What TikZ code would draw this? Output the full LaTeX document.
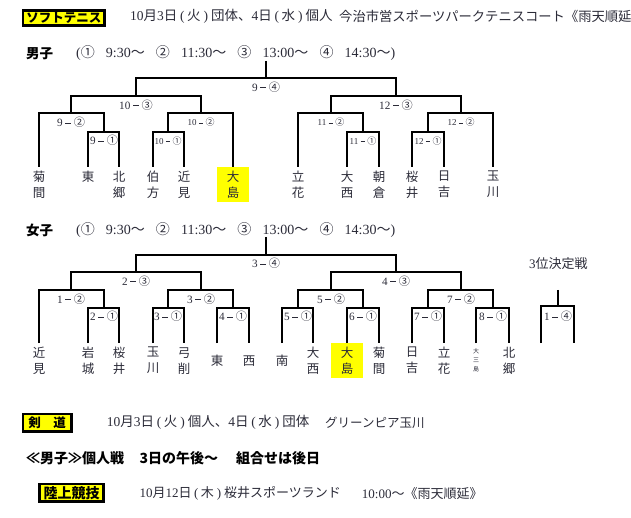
\documentclass[tikz,border=0pt]{standalone}
\usepackage{fontspec}
\setmainfont{Noto Sans CJK JP}
\newfontfamily\tm{Liberation Serif}
\definecolor{ink}{HTML}{2B2B38}
\definecolor{yel}{HTML}{FFFF00}
\newcommand\dsh{\makebox[1em]{\rule[0.3em]{0.5em}{0.065em}}}
\newcommand\lb[2]{{\tm #1}\dsh#2}
\newcommand\pj[1]{\makebox[0.72em]{\tm(}#1\makebox[0.78em]{\tm)}}
\newcommand\tn[1]{{\tm #1}}
\begin{document}
\begin{tikzpicture}[x=1pt,y=-1pt,
 br/.style={line width=2pt, draw=black},
 leaf/.style={anchor=north, minimum width=32pt, minimum height=35pt, inner sep=0pt, align=center, text=ink, font=\fontsize{12.5}{16}\selectfont},
 yleaf/.style={leaf, fill=yel},
 lbn/.style={inner sep=0pt, text=ink, font=\fontsize{11.2}{13}\selectfont},
 lbs/.style={inner sep=0pt, text=ink, font=\fontsize{9}{11}\selectfont},
 txt/.style={anchor=west, inner sep=0pt, text=ink, font=\fontsize{13.5}{16}\selectfont},
 bld/.style={anchor=west, inner sep=0pt, text=black, font=\fontsize{13.5}{16}\selectfont\bfseries},
 hbox/.style={draw=black, line width=2.6pt, fill=yel, inner sep=0pt, text=black, font=\fontsize{12.5}{14}\selectfont\bfseries},
]
\useasboundingbox (0,0) rectangle (631,518);

% ---------- header ----------
\node[hbox, minimum width=81.7pt, minimum height=15.1pt] (hsoft) at (63.85,17.85) {ソフトテニス};
\node[txt] (hdate) at (130,16.7) {\tn{10}月\tn{3}日\pj{火}団体、\tn{4}日\pj{水}個人};
\node[txt, font=\fontsize{13.3}{16}\selectfont] (hplace) at (339,16.7) {今治市営スポーツパークテニスコート《雨天順延》};

\node[bld] (hmen) at (26,53.3) {男子};
\node[txt, font=\fontsize{14}{16}\selectfont] (tmen) at (76,53.3) {\makebox[319pt][s]{\tn{(}①\ \tn{9:30}～\ ②\ \tn{11:30}～\ ③\ \tn{13:00}～\ ④\ \tn{14:30}～\tn{)}}};

% ---------- men leaves ----------
\node[leaf] (m1) at (39,167) {菊\\間};
\node[leaf] (m2) at (88,167) {東\\\mbox{}};
\node[leaf] (m3) at (119,167) {北\\郷};
\node[leaf] (m4) at (153,167) {伯\\方};
\node[leaf] (m5) at (184,167) {近\\見};
\node[yleaf] (m6) at (233,167) {大\\島};
\node[leaf] (m7) at (298,167) {立\\花};
\node[leaf] (m8) at (347,167) {大\\西};
\node[leaf] (m9) at (379,167) {朝\\倉};
\node[leaf] (m10) at (412,167) {桜\\井};
\node[leaf] (m11) at (444,167) {日\\吉};
\node[leaf] (m12) at (493,167) {玉\\川};

% ---------- men matches ----------
\coordinate (M91) at (104,132);
\coordinate (M92) at (71,113);
\coordinate (M101) at (168,132);
\coordinate (M102) at (201,113);
\coordinate (M103) at (136,96);
\coordinate (M111) at (363,132);
\coordinate (M112) at (331,113);
\coordinate (M121) at (428,132);
\coordinate (M122) at (461,113);
\coordinate (M123) at (396,96);
\coordinate (M94) at (266,78);
\coordinate (mroot) at (266,61);

\draw[br] (m2.north) |- (M91) -| (m3.north);
\draw[br] (m1.north) |- (M92) -| (M91);
\draw[br] (m4.north) |- (M101) -| (m5.north);
\draw[br] (M101) |- (M102) -| (m6.north);
\draw[br] (M92) |- (M103) -| (M102);
\draw[br] (m8.north) |- (M111) -| (m9.north);
\draw[br] (m7.north) |- (M112) -| (M111);
\draw[br] (m10.north) |- (M121) -| (m11.north);
\draw[br] (M121) |- (M122) -| (m12.north);
\draw[br] (M112) |- (M123) -| (M122);
\draw[br] (M103) |- (M94) -| (M123);
\draw[br] (mroot) -- (M94);

\node[lbn] (lm94) at (266,87) {\lb{9}{④}};
\node[lbn] (lm103) at (136,105) {\lb{10}{③}};
\node[lbn] (lm123) at (396,105) {\lb{12}{③}};
\node[lbn] (lm92) at (71,122.5) {\lb{9}{②}};
\node[lbs] (lm102) at (201,122.5) {\lb{10}{②}};
\node[lbs] (lm112) at (331,122.5) {\lb{11}{②}};
\node[lbs] (lm122) at (461,122.5) {\lb{12}{②}};
\node[lbn] (lm91) at (104,140.7) {\lb{9}{①}};
\node[lbs] (lm101) at (168,140.7) {\lb{10}{①}};
\node[lbs] (lm111) at (363,140.7) {\lb{11}{①}};
\node[lbs] (lm121) at (428,140.7) {\lb{12}{①}};

% ---------- women ----------
\node[bld] (hwomen) at (26,230) {女子};
\node[txt, font=\fontsize{14}{16}\selectfont] (twomen) at (76,230) {\makebox[319pt][s]{\tn{(}①\ \tn{9:30}～\ ②\ \tn{11:30}～\ ③\ \tn{13:00}～\ ④\ \tn{14:30}～\tn{)}}};
\node[txt, anchor=center, font=\fontsize{13}{16}\selectfont] (third) at (558.3,264) {\tn{3}位決定戦};

\node[leaf] (w1) at (39,343) {近\\見};
\node[leaf] (w2) at (88,343) {岩\\城};
\node[leaf] (w3) at (119,343) {桜\\井};
\node[leaf] (w4) at (153,343) {玉\\川};
\node[leaf] (w5) at (184,343) {弓\\削};
\node[leaf] (w6) at (217,343) {東};
\node[leaf] (w7) at (249,343) {西};
\node[leaf] (w8) at (282,343) {南};
\node[leaf] (w9) at (313,343) {大\\西};
\node[yleaf] (w10) at (347,343) {大\\島};
\node[leaf] (w11) at (379,343) {菊\\間};
\node[leaf] (w12) at (412,343) {日\\吉};
\node[leaf] (w13) at (444,343) {立\\花};
\node[leaf, font=\fontsize{6}{9}\selectfont] (w14) at (476,343) {大\\三\\島};
\node[leaf] (w15) at (509,343) {北\\郷};
\coordinate (t1) at (541,343);
\coordinate (t2) at (574,343);

\coordinate (W21) at (104,308);
\coordinate (W12) at (71,290);
\coordinate (W31) at (168,308);
\coordinate (W41) at (233,308);
\coordinate (W32) at (201,290);
\coordinate (W23) at (136,272);
\coordinate (W51) at (298,308);
\coordinate (W61) at (363,308);
\coordinate (W52) at (331,290);
\coordinate (W71) at (428,308);
\coordinate (W81) at (493,308);
\coordinate (W72) at (461,290);
\coordinate (W43) at (396,272);
\coordinate (W34) at (266,255);
\coordinate (wroot) at (266,237);
\coordinate (T14) at (558,306);
\coordinate (troot) at (558,290);

\draw[br] (w2.north) |- (W21) -| (w3.north);
\draw[br] (w1.north) |- (W12) -| (W21);
\draw[br] (w4.north) |- (W31) -| (w5.north);
\draw[br] (w6.north) |- (W41) -| (w7.north);
\draw[br] (W31) |- (W32) -| (W41);
\draw[br] (W12) |- (W23) -| (W32);
\draw[br] (w8.north) |- (W51) -| (w9.north);
\draw[br] (w10.north) |- (W61) -| (w11.north);
\draw[br] (W51) |- (W52) -| (W61);
\draw[br] (w12.north) |- (W71) -| (w13.north);
\draw[br] (w14.north) |- (W81) -| (w15.north);
\draw[br] (W71) |- (W72) -| (W81);
\draw[br] (W52) |- (W43) -| (W72);
\draw[br] (W23) |- (W34) -| (W43);
\draw[br] (wroot) -- (W34);
\draw[br] (t1) |- (T14) -| (t2);
\draw[br] (troot) -- (T14);

\node[lbn] (lw34) at (266,263.5) {\lb{3}{④}};
\node[lbn] (lw23) at (136,281) {\lb{2}{③}};
\node[lbn] (lw43) at (396,281) {\lb{4}{③}};
\node[lbn] (lw12) at (71,299) {\lb{1}{②}};
\node[lbn] (lw32) at (201,299) {\lb{3}{②}};
\node[lbn] (lw52) at (331,299) {\lb{5}{②}};
\node[lbn] (lw72) at (461,299) {\lb{7}{②}};
\node[lbn] (lw21) at (104,316.7) {\lb{2}{①}};
\node[lbn] (lw31) at (168,316.7) {\lb{3}{①}};
\node[lbn] (lw41) at (233,316.7) {\lb{4}{①}};
\node[lbn] (lw51) at (298,316.7) {\lb{5}{①}};
\node[lbn] (lw61) at (363,316.7) {\lb{6}{①}};
\node[lbn] (lw71) at (428,316.7) {\lb{7}{①}};
\node[lbn] (lw81) at (493,316.7) {\lb{8}{①}};
\node[lbn] (lt14) at (558,316.7) {\lb{1}{④}};

% ---------- bottom ----------
\node[hbox, minimum width=48.4pt, minimum height=17.4pt] (hken) at (47.2,422.7) {剣　道};
\node[txt] (kdate) at (106.7,422.7) {\tn{10}月\tn{3}日\pj{火}個人、\tn{4}日\pj{水}団体};
\node[txt, font=\fontsize{12.5}{16}\selectfont] (kplace) at (325,422.7) {グリーンピア玉川};

\node[bld, font=\fontsize{14}{16}\selectfont\bfseries] (kmen1) at (26,458.3) {≪男子≫個人戦};
\node[bld, font=\fontsize{14}{16}\selectfont\bfseries] (kmen2) at (139.3,458.3) {3日の午後～};
\node[bld, font=\fontsize{14}{16}\selectfont\bfseries] (kmen3) at (236,458.3) {組合せは後日};

\node[hbox, minimum width=64.1pt, minimum height=17.4pt, font=\fontsize{14}{16}\selectfont\bfseries] (hriku) at (71.65,492.7) {陸上競技};
\node[txt, font=\fontsize{13}{16}\selectfont] (rdate) at (139.3,493.3) {\tn{10}月\tn{12}日\pj{木}桜井スポーツランド};
\node[txt, font=\fontsize{13}{16}\selectfont] (rtime) at (361.7,493.3) {\tn{10:00}～《雨天順延》};
\end{tikzpicture}
\end{document}
